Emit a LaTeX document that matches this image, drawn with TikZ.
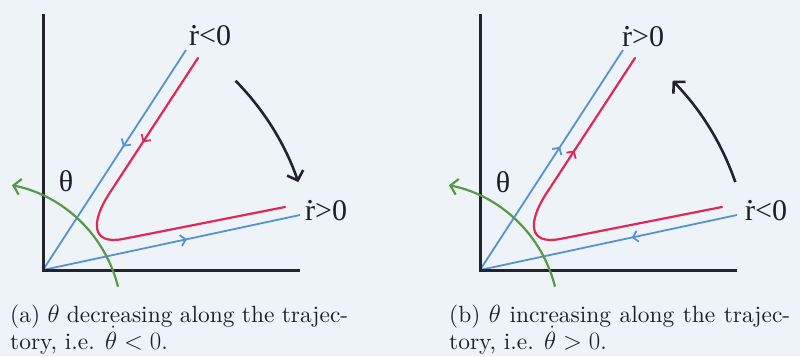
\documentclass[tikz,border=0pt]{standalone}
\usepackage{fontspec}
\newfontfamily\tms{Liberation Serif}
\newfontfamily\capfont{lmroman10-regular.otf}
\usetikzlibrary{arrows.meta,decorations.markings}
\definecolor{bgc}{RGB}{238,243,248}
\definecolor{axisc}{RGB}{35,35,45}
\definecolor{bluec}{RGB}{86,146,204}
\definecolor{redc}{RGB}{222,40,85}
\definecolor{greenc}{RGB}{90,150,75}
\definecolor{inkc}{RGB}{30,30,40}
\newcommand\rdt{\ooalign{r\cr\hidewidth\raisebox{0.55em}{.}\hidewidth\cr}}
\tikzset{
  axisline/.style={draw=axisc, line width=3pt, line join=miter},
  bluetraj/.style={draw=bluec, line width=1.8pt},
  redtraj/.style={draw=redc, line width=2.2pt, line cap=round},
  midarrow/.style={postaction=decorate, decoration={markings,
      mark=at position #1 with {\arrow{Straight Barb[length=5pt,width=11pt,line width=1.8pt]}}}},
  greenarc/.style={draw=greenc, line width=2.2pt, -{Straight Barb[length=7pt,width=16pt]}},
  bigarrow/.style={draw=axisc, line width=2.6pt, -{Straight Barb[length=8pt,width=17pt]}},
  tlabel/.style={font=\tms\fontsize{30pt}{36pt}\selectfont, inner sep=0pt, text=inkc},
  captext/.style={font=\capfont\fontsize{23.4pt}{28pt}\selectfont, inner sep=0pt, text=inkc, anchor=base west}
}
\begin{document}
\begin{tikzpicture}[x=1pt,y=-1pt]
\fill[bgc] (0,0) rectangle (800,356);
\useasboundingbox (0,0) rectangle (800,356);
% ---------- panel (a)
\begin{scope}[shift={(43,270)}]
  \coordinate (aO) at (0,0);
  \coordinate (aY) at (0,-256);
  \coordinate (aX) at (257,0);
  \coordinate (aU) at (143,-220);
  \coordinate (aL) at (257,-55);
  \coordinate (aR1) at (155,-212);
  \coordinate (aR2) at (66,-76);
  \coordinate (aR3) at (80,-31);
  \coordinate (aR4) at (242,-63);
  \draw[bluetraj, midarrow=0.44] (aU) -- (aO);
  \draw[bluetraj, midarrow=0.56] (aO) -- (aL);
  \draw[redtraj, midarrow=0.62] (aR1) -- (aR2);
  \draw[redtraj] (aR2) .. controls (48,-48) and (48,-25) .. (aR3) -- (aR4);
  \draw[axisline] (aY) -- (aO) -- (aX);
  \draw[greenarc] (-58.5,50) ++(-14:137.6) arc[start angle=-14, end angle=-78.5, radius=137.6];
  \draw[bigarrow] (-44.5:270) arc[start angle=-44.5, end angle=-19, radius=270];
  \node[tlabel, anchor=base west] (aLu) at (146,-225) {\rdt<0};
  \node[tlabel, anchor=base west] (aLl) at (262,-50) {\rdt>0};
  \node[tlabel] (aTh) at (23,-89) {θ};
\end{scope}
% ---------- panel (b)
\begin{scope}[shift={(480,270)}]
  \coordinate (bO) at (0,0);
  \coordinate (bY) at (0,-256);
  \coordinate (bX) at (257,0);
  \coordinate (bU) at (143,-220);
  \coordinate (bL) at (257,-55);
  \coordinate (bR1) at (155,-212);
  \coordinate (bR2) at (66,-76);
  \coordinate (bR3) at (80,-31);
  \coordinate (bR4) at (242,-63);
  \draw[bluetraj, midarrow=0.56] (bO) -- (bU);
  \draw[bluetraj, midarrow=0.41] (bL) -- (bO);
  \draw[redtraj, midarrow=0.32] (bR2) -- (bR1);
  \draw[redtraj] (bR2) .. controls (48,-48) and (48,-25) .. (bR3) -- (bR4);
  \draw[axisline] (bY) -- (bO) -- (bX);
  \draw[greenarc] (-58.5,50) ++(-14:137.6) arc[start angle=-14, end angle=-78.5, radius=137.6];
  \draw[bigarrow] (-19:270) arc[start angle=-19, end angle=-44.5, radius=270];
  \node[tlabel, anchor=base west] (bLu) at (142,-224) {\rdt>0};
  \node[tlabel, anchor=base west] (bLl) at (265,-50) {\rdt<0};
  \node[tlabel] (bTh) at (23,-88) {θ};
\end{scope}
% ---------- captions
\node[captext] (ca1) at (10,322) {\makebox[338pt][s]{(a) $\theta$ decreasing along the trajec-}};
\node[captext] (ca2) at (10,349) {tory, i.e. $\dot\theta<0$.};
\node[captext] (cb1) at (449,322) {\makebox[341pt][s]{(b) $\theta$ increasing along the trajec-}};
\node[captext] (cb2) at (449,349) {tory, i.e. $\dot\theta>0$.};
\end{tikzpicture}
\end{document}
